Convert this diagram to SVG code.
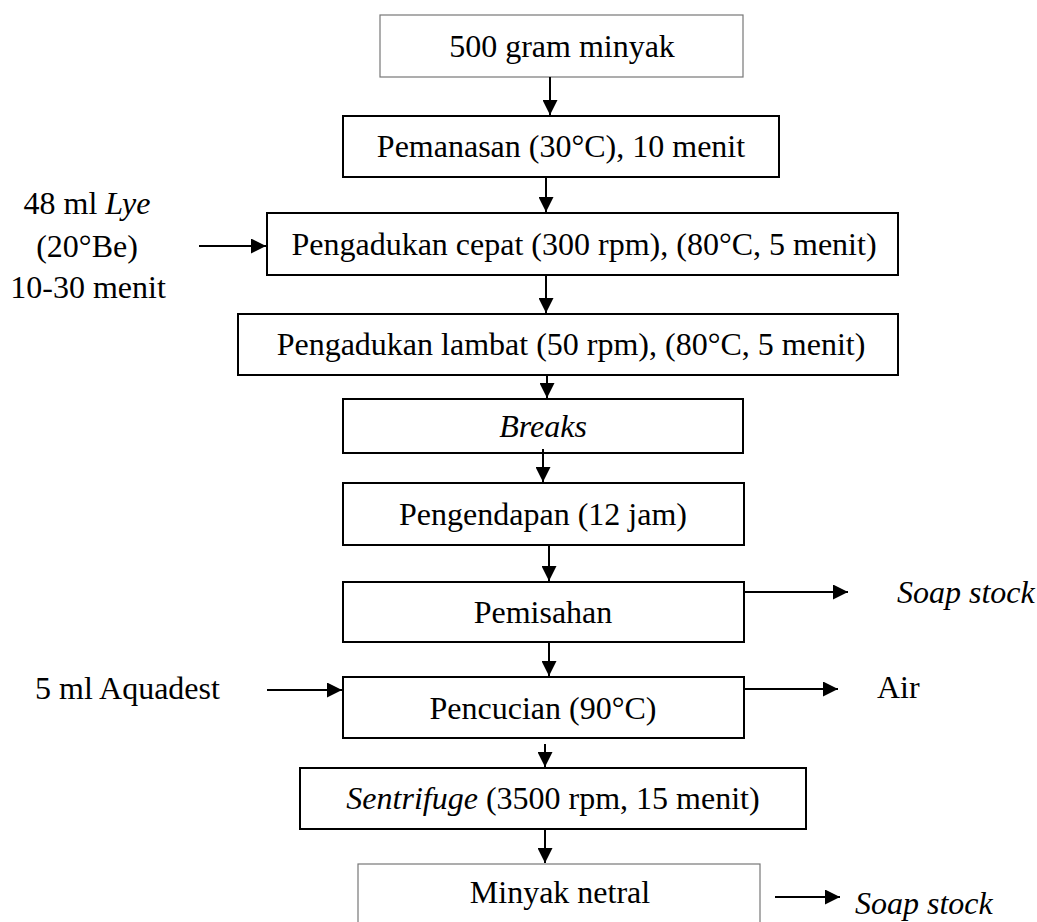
<svg xmlns="http://www.w3.org/2000/svg" width="1037" height="922" viewBox="0 0 1037 922">
<style>
text{font-family:'Liberation Serif',serif;font-size:32px;fill:#000}
.c{text-anchor:middle}
.i{font-style:italic}
.b{fill:#fff;stroke:#000;stroke-width:2}
.g{fill:#fff;stroke:#777;stroke-width:1.2}
.l{stroke:#000;stroke-width:2;fill:none}
</style>
<defs>
<marker id="ah" viewBox="0 0 10 10" refX="10" refY="5" markerWidth="8.5" markerHeight="7.5" markerUnits="strokeWidth" orient="auto">
<path d="M0,0L10,5L0,10z" fill="#000"/>
</marker>
</defs>
<rect width="1037" height="922" fill="#fff"/>
<g id="n1"><rect class="g" x="380" y="15" width="363" height="62"/><text class="c" x="562" y="57">500 gram minyak</text></g>
<g id="n2"><rect class="b" x="343" y="116" width="436" height="61"/><text class="c" x="561" y="157">Pemanasan (30°C), 10 menit</text></g>
<g id="n3"><rect class="b" x="267" y="213" width="631" height="62"/><text class="c" x="584" y="255">Pengadukan cepat (300 rpm), (80°C, 5 menit)</text></g>
<g id="n4"><rect class="b" x="238" y="314" width="660" height="61"/><text class="c" x="571" y="355">Pengadukan lambat (50 rpm), (80°C, 5 menit)</text></g>
<g id="n5"><rect class="b" x="343" y="399" width="400" height="54"/><text class="c i" x="543" y="437">Breaks</text></g>
<g id="n6"><rect class="b" x="343" y="483" width="401" height="62"/><text class="c" x="543" y="525">Pengendapan (12 jam)</text></g>
<g id="n7"><rect class="b" x="343" y="582" width="401" height="60"/><text class="c" x="543" y="623">Pemisahan</text></g>
<g id="n8"><rect class="b" x="343" y="677" width="401" height="61"/><text class="c" x="543" y="719">Pencucian (90°C)</text></g>
<g id="n9"><rect class="b" x="300" y="768" width="506" height="61"/><text class="c" x="553" y="809"><tspan class="i">Sentrifuge</tspan> (3500 rpm, 15 menit)</text></g>
<g id="n10"><rect class="g" x="358" y="864" width="402" height="80"/><text class="c" x="560" y="903">Minyak netral</text></g>
<g id="in1"><text class="c" x="87" y="214">48 ml <tspan class="i">Lye</tspan></text><text class="c" x="87" y="257">(20°Be)</text><text class="c" x="88" y="298">10-30 menit</text></g>
<g id="in2"><text x="35" y="699">5 ml Aquadest</text></g>
<g id="out1"><text class="i" x="897" y="603">Soap stock</text></g>
<g id="out2"><text x="877" y="698">Air</text></g>
<g id="out3"><text class="i" x="855" y="914">Soap stock</text></g>
<g id="connectors">
<line class="l" x1="550" y1="77" x2="550" y2="115" marker-end="url(#ah)"/>
<line class="l" x1="546" y1="177" x2="546" y2="212" marker-end="url(#ah)"/>
<line class="l" x1="546" y1="275" x2="546" y2="313" marker-end="url(#ah)"/>
<line class="l" x1="547" y1="375" x2="547" y2="398" marker-end="url(#ah)"/>
<line class="l" x1="543" y1="449" x2="543" y2="482" marker-end="url(#ah)"/>
<line class="l" x1="549" y1="545" x2="549" y2="581" marker-end="url(#ah)"/>
<line class="l" x1="549" y1="642" x2="549" y2="676" marker-end="url(#ah)"/>
<line class="l" x1="545" y1="744" x2="545" y2="767" marker-end="url(#ah)"/>
<line class="l" x1="545" y1="829" x2="545" y2="863" marker-end="url(#ah)"/>
<line class="l" x1="199" y1="246" x2="266" y2="246" marker-end="url(#ah)"/>
<line class="l" x1="267" y1="690" x2="342" y2="690" marker-end="url(#ah)"/>
<line class="l" x1="744" y1="592" x2="848" y2="592" marker-end="url(#ah)"/>
<line class="l" x1="744" y1="689" x2="838" y2="689" marker-end="url(#ah)"/>
<line class="l" x1="775" y1="897" x2="840" y2="897" marker-end="url(#ah)"/>
</g>
</svg>
